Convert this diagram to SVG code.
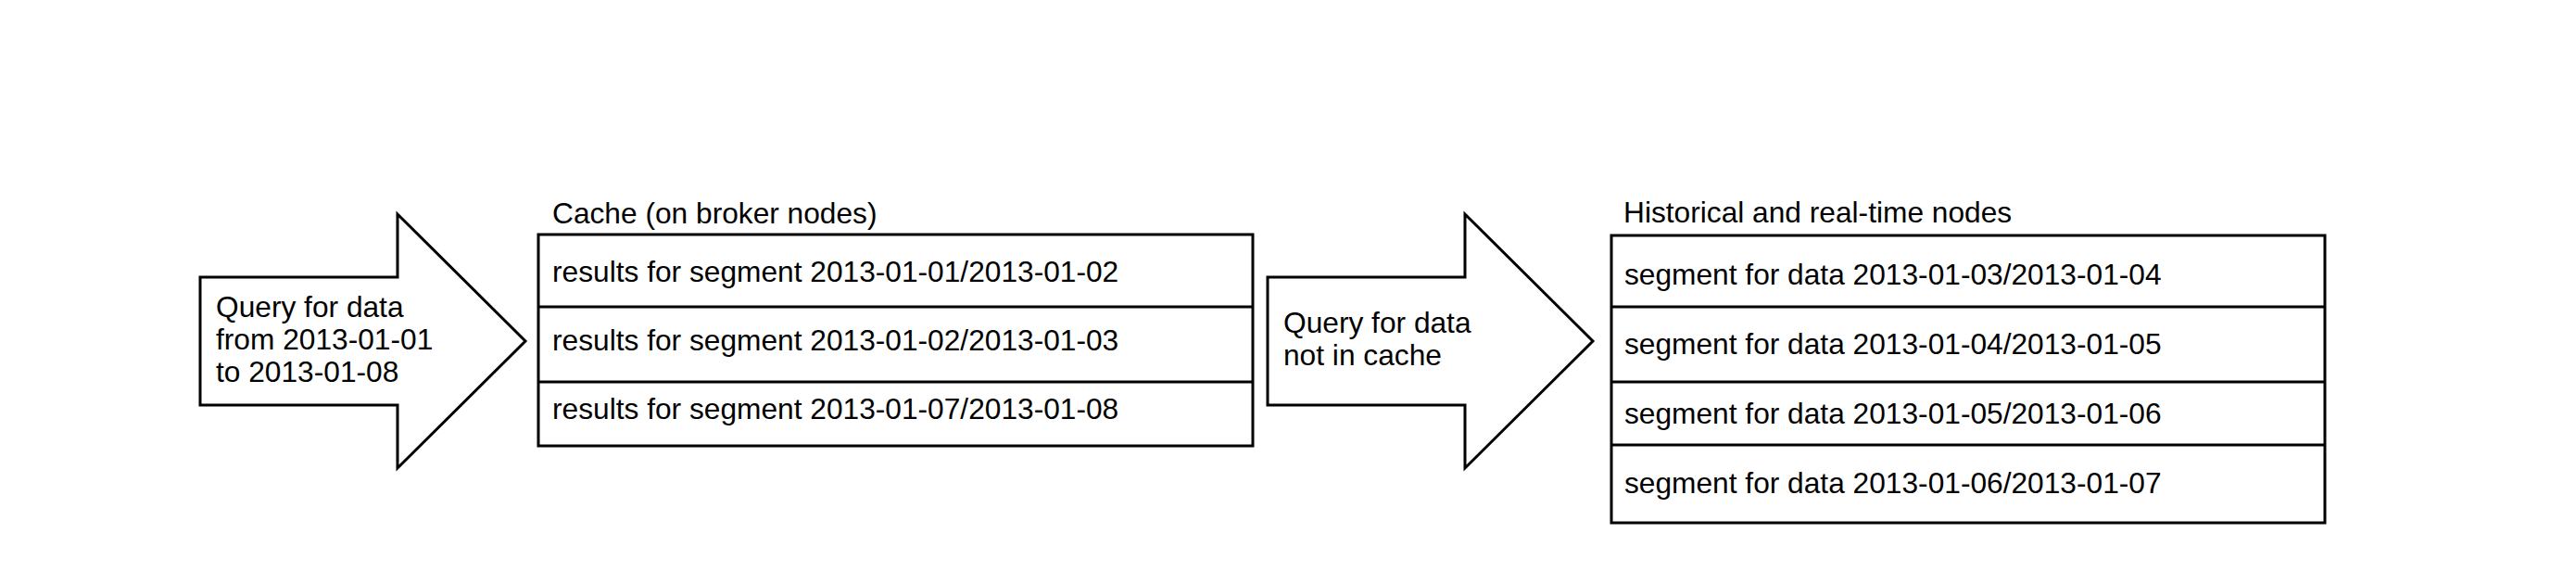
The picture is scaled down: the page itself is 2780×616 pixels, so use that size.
<svg xmlns="http://www.w3.org/2000/svg" width="2780" height="616" viewBox="0 0 2780 616">
<style>
  .shape { fill: #ffffff; stroke: #000000; stroke-width: 3; stroke-linejoin: miter; }
  .div { stroke: #000000; stroke-width: 3; fill: none; }
  .t { font-family: "Liberation Sans", Arial, sans-serif; font-size: 31.7px; fill: #000000; }
</style>
<rect x="0" y="0" width="2780" height="616" fill="#ffffff"/>

<g id="arrow-query">
  <polygon class="shape" points="216,299 429,299 429,231 567,368 429,505 429,437 216,437"/>
  <text class="t" x="233" y="342">Query for data</text>
  <text class="t" x="233" y="377">from 2013-01-01</text>
  <text class="t" x="233" y="412">to 2013-01-08</text>
</g>

<g id="cache">
  <text class="t" x="596" y="241">Cache (on broker nodes)</text>
  <rect class="shape" x="581" y="253" width="771" height="228"/>
  <line class="div" x1="581" y1="331" x2="1352" y2="331"/>
  <line class="div" x1="581" y1="412" x2="1352" y2="412"/>
  <text class="t" x="596" y="304">results for segment 2013-01-01/2013-01-02</text>
  <text class="t" x="596" y="378">results for segment 2013-01-02/2013-01-03</text>
  <text class="t" x="596" y="452">results for segment 2013-01-07/2013-01-08</text>
</g>

<g id="arrow-not-in-cache">
  <polygon class="shape" points="1368,299 1581,299 1581,231 1719,368 1581,505 1581,437 1368,437"/>
  <text class="t" x="1385" y="359">Query for data</text>
  <text class="t" x="1385" y="394">not in cache</text>
</g>

<g id="historical-realtime">
  <text class="t" x="1752" y="240">Historical and real-time nodes</text>
  <rect class="shape" x="1739" y="254" width="770" height="310"/>
  <line class="div" x1="1739" y1="331" x2="2509" y2="331"/>
  <line class="div" x1="1739" y1="412" x2="2509" y2="412"/>
  <line class="div" x1="1739" y1="480" x2="2509" y2="480"/>
  <text class="t" x="1753" y="307">segment for data 2013-01-03/2013-01-04</text>
  <text class="t" x="1753" y="382">segment for data 2013-01-04/2013-01-05</text>
  <text class="t" x="1753" y="457">segment for data 2013-01-05/2013-01-06</text>
  <text class="t" x="1753" y="532">segment for data 2013-01-06/2013-01-07</text>
</g>

<g id="connectors"></g>
</svg>
